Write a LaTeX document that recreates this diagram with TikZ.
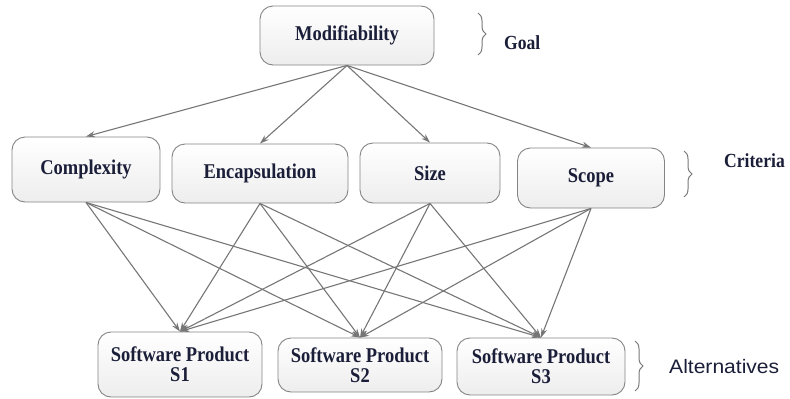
\documentclass[tikz,border=0pt]{standalone}
\usepackage{fontspec}
\setmainfont{Liberation Serif}[FakeStretch=0.88]
\newfontfamily\altfont{Liberation Sans}[FakeStretch=1.08]
\usetikzlibrary{arrows.meta,decorations.pathreplacing,shadings}
\definecolor{txt}{HTML}{1A1E38}
\definecolor{edge}{HTML}{767676}
\tikzset{
  box/.style={draw=edge!90, line width=0.9pt, rounded corners=13pt,
    top color=white, bottom color=gray!14, text=txt,
    font=\fontsize{21}{20}\selectfont\bfseries, align=center, inner sep=0pt},
  arr/.style={draw=edge, line width=1.1pt, -{Stealth[length=9pt,width=6pt]}},
  brc/.style={draw=edge, line width=1pt, decorate, decoration={brace, amplitude=8pt}},
  lbl/.style={text=txt, font=\fontsize{20}{22}\selectfont\bfseries, anchor=west, inner sep=0pt}
}
\begin{document}
\begin{tikzpicture}[x=1pt,y=-1pt]
\useasboundingbox (0,0) rectangle (790,399);
% goal
\node[box, minimum width=174pt, minimum height=59pt] (mod) at (347,35.5) {Modifiability};
% criteria
\node[box, minimum width=148pt, minimum height=65pt] (cx) at (86,169.5) {Complexity};
\node[box, minimum width=176pt, minimum height=59pt] (en) at (260,173.5) {Encapsulation};
\node[box, minimum width=140pt, minimum height=60pt] (sz) at (430,173) {Size};
\node[box, minimum width=147pt, minimum height=60pt] (sc) at (591,178) {Scope};
% alternatives
\node[box, minimum width=164pt, minimum height=65pt] (s1) at (180,364.5) {Software Product\\S1};
\node[box, minimum width=164pt, minimum height=54pt] (s2) at (360,365) {Software Product\\S2};
\node[box, minimum width=168pt, minimum height=57pt] (s3) at (541,366.5) {Software Product\\S3};
% goal arrows
\foreach \t in {cx,en,sz,sc} { \draw[arr] (mod.south) -- (\t.north); }
% criteria to alternatives
\foreach \s in {cx,en,sz,sc} {
  \foreach \t in {s1,s2,s3} { \draw[arr] (\s.south) -- (\t.north); }
}
% braces and labels
\draw[brc] (478,13) -- (478,55);
\node[lbl] (goal) at (504,43) {Goal};
\draw[brc] (684,151) -- (684,197);
\node[lbl] (crit) at (724,161) {Criteria};
\draw[brc] (635,341) -- (635,391);
\node[lbl, font=\altfont\fontsize{19.5}{21}\selectfont] (alt) at (669,367) {Alternatives};
\end{tikzpicture}
\end{document}
